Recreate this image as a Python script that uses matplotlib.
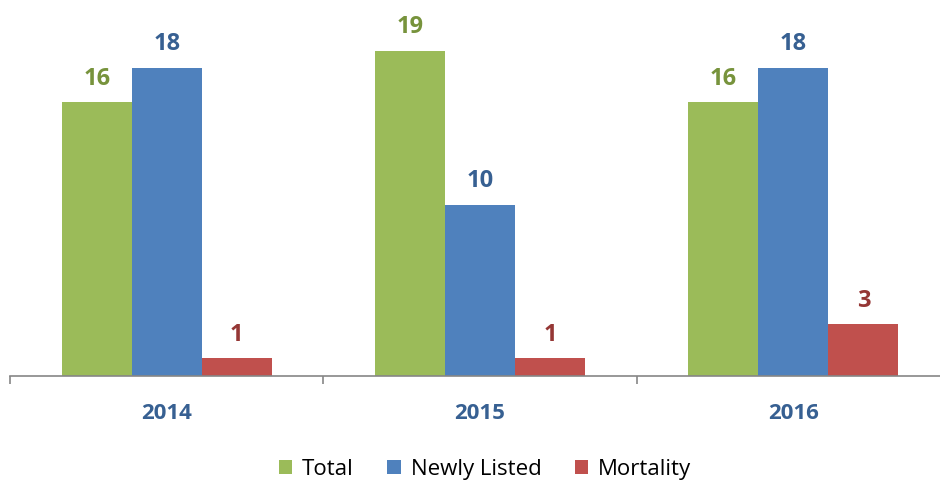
import matplotlib.pyplot as plt
import numpy as np

plt.rcParams['font.family'] = ['Open Sans', 'DejaVu Sans']

years = ['2014', '2015', '2016']
series = ['Total', 'Newly Listed', 'Mortality']
total = [16, 19, 16]
newly_listed = [18, 10, 18]
mortality = [1, 1, 3]

bar_colors = ['#9BBB59', '#4F81BD', '#C0504D']
label_colors = ['#77933C', '#376092', '#953735']

fig = plt.figure(figsize=(9.4, 4.81), dpi=100)
ax = fig.add_axes([10 / 940, 104.5 / 481, 940 / 940, 376 / 481])

x = np.arange(len(years))
w = 0.2234
for k, (name, vals) in enumerate(zip(series, [total, newly_listed, mortality])):
    pos = x + (k - 1) * w
    bars = ax.bar(pos, vals, width=w, color=bar_colors[k], label=name, zorder=2)
    for b, v in zip(bars, vals):
        ax.annotate(str(v), (b.get_x() + b.get_width() / 2, v),
                    xytext=(0, 9), textcoords='offset points',
                    ha='center', va='bottom', fontsize=17,
                    fontweight='bold', color=label_colors[k])

ax.set_xlim(-0.5, 2.5)
ax.set_ylim(0, 22)

for s in ['top', 'left', 'right']:
    ax.spines[s].set_visible(False)
ax.spines['bottom'].set_color('#868686')
ax.spines['bottom'].set_linewidth(1.2)
ax.set_yticks([])

ax.set_xticks(x)
ax.set_xticklabels(years, fontsize=16, fontweight='bold', color='#376092')
ax.tick_params(axis='x', which='major', length=0, pad=19)
ax.set_xticks([-0.5, 0.5, 1.5, 2.5], minor=True)
ax.tick_params(axis='x', which='minor', length=5.5, width=1.2, color='#868686', direction='out')

fig.legend(loc='center', bbox_to_anchor=(485 / 940, 1 - 470 / 481), ncol=3,
           frameon=False, fontsize=16, handlelength=0.6, handleheight=0.6,
           handletextpad=0.45, columnspacing=1.5)

fig.savefig('out.png', dpi=100)
